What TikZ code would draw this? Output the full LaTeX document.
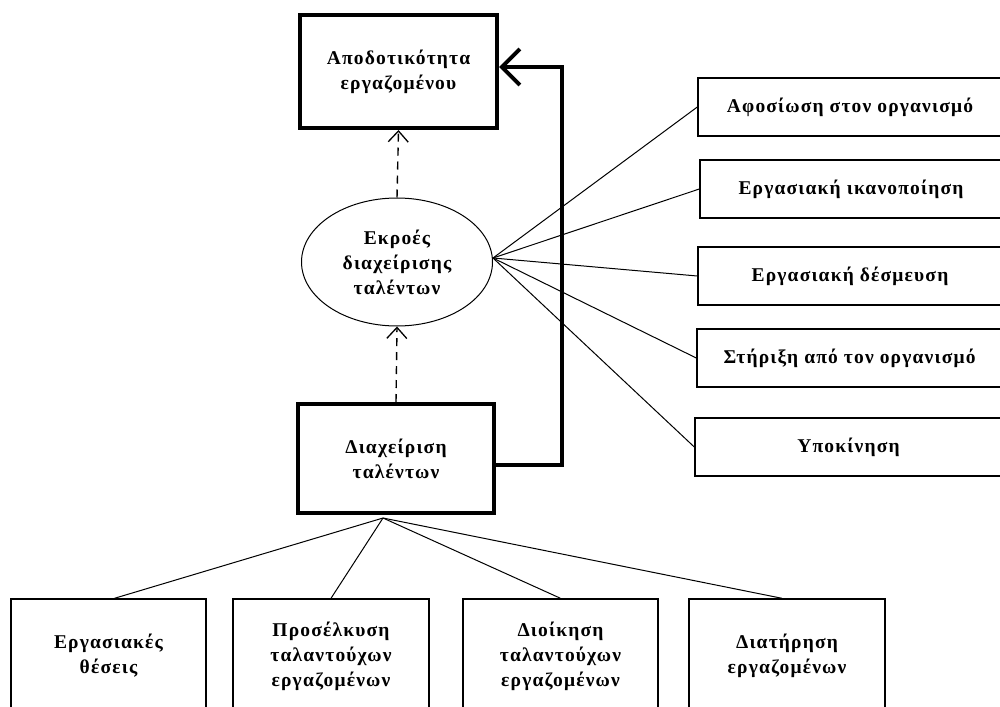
\documentclass[tikz,border=0pt]{standalone}
\usepackage{fontspec}
\setmainfont[LetterSpace=6]{Liberation Serif}
\usetikzlibrary{arrows.meta,shapes.geometric}

\tikzset{
  txt/.style={font=\fontsize{19.5}{25}\selectfont\bfseries, align=center, inner sep=0pt},
  thinbox/.style={txt, draw, line width=1.4pt, minimum height=58pt},
  lowbox/.style={txt, draw, line width=1.4pt, minimum width=195pt, minimum height=114pt},
  boldbox/.style={txt, draw, line width=4pt},
  link/.style={line width=1pt},
  dashlink/.style={line width=1.4pt, dash pattern=on 8pt off 6pt,
    -{Straight Barb[length=11pt,width=20pt,line width=1.3pt]}},
  feedback/.style={line width=4pt,
    -{Straight Barb[length=18pt,width=36pt,line width=4pt]}}
}

\begin{document}
\begin{tikzpicture}[x=1pt,y=-1pt]
  \useasboundingbox (0,0) rectangle (1000,706);
  \clip (0,0) rectangle (1000,706);
  \fill[white] (0,0) rectangle (1000,706);

  % central column
  \node[boldbox, minimum width=197pt, minimum height=113pt] (perf) at (398.5,71.5)
    {Αποδοτικότητα\\εργαζομένου};
  \node[txt, draw, ellipse, line width=1pt, minimum width=191pt, minimum height=128pt] (outc) at (397,262)
    {Εκροές\\διαχείρισης\\ταλέντων};
  \node[boldbox, minimum width=196pt, minimum height=109pt] (tm) at (396,458.5)
    {Διαχείριση\\ταλέντων};

  % outcome boxes on the right
  \node[thinbox, minimum width=304pt] (r1) at (850,107)   {Αφοσίωση στον οργανισμό};
  \node[thinbox, minimum width=302pt] (r2) at (851,189)   {Εργασιακή ικανοποίηση};
  \node[thinbox, minimum width=304pt] (r3) at (850,276)   {Εργασιακή δέσμευση};
  \node[thinbox, minimum width=305pt] (r4) at (849.5,358) {Στήριξη από τον οργανισμό};
  \node[thinbox, minimum width=307pt] (r5) at (848.5,447) {Υποκίνηση};

  % practice boxes along the bottom
  \node[lowbox] (b1) at (108.5,656) {Εργασιακές\\θέσεις};
  \node[lowbox, minimum width=196pt] (b2) at (331,656) {Προσέλκυση\\ταλαντούχων\\εργαζομένων};
  \node[lowbox] (b3) at (560.5,656) {Διοίκηση\\ταλαντούχων\\εργαζομένων};
  \node[lowbox, minimum width=196pt] (b4) at (787,656) {Διατήρηση\\εργαζομένων};

  % dashed links between the central elements
  \draw[dashlink] (outc.north) -- (perf.south);
  \draw[dashlink] (tm.north) -- (outc.south);

  % fan from the outcomes ellipse
  \coordinate (hub) at ([yshift=4pt]outc.east);
  \foreach \r in {r1,r2,r3,r4,r5}
    \draw[link] (hub) -- (\r.west);

  % fan down to the practices
  \coordinate (root) at ([xshift=-13pt,yshift=-3pt]tm.south);
  \draw[link] (root) -- ([xshift=6pt]b1.north);
  \draw[link] (root) -- (b2.north);
  \draw[link] (root) -- (b3.north);
  \draw[link] (root) -- ([xshift=-5pt]b4.north);

  % feedback loop to performance
  \coordinate (bend) at (562,67);
  \draw[feedback] ([yshift=-6.5pt]tm.east) -| (bend) -- ([yshift=4.5pt]perf.east);
\end{tikzpicture}
\end{document}
